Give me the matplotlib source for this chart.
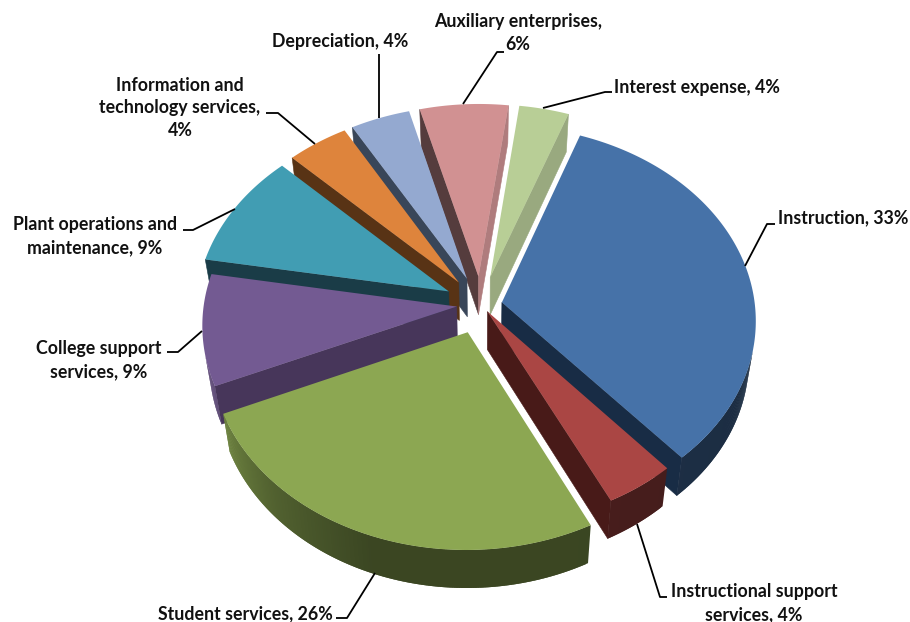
import numpy as np
import matplotlib
matplotlib.use("Agg")
import matplotlib.pyplot as plt
from matplotlib.patches import Polygon

# Expense shares, clockwise from the first slice
categories = ["Instruction", "Instructional support services", "Student services",
              "College support services", "Plant operations and maintenance",
              "Information and technology services", "Depreciation",
              "Auxiliary enterprises", "Interest expense"]
shares = [33, 4, 26, 9, 9, 4, 4, 6, 4]
labels = ["Instruction, 33%", "Instructional support\nservices, 4%", "Student services, 26%",
          "College support\nservices, 9%", "Plant operations and\nmaintenance, 9%",
          "Information and\ntechnology services,\n4%", "Depreciation, 4%",
          "Auxiliary enterprises,\n6%", "Interest expense, 4%"]

top_colors = ["#4672A8", "#AA4644", "#8CA752", "#735A92", "#419DB3",
              "#DE843C", "#94A9D0", "#D19192", "#B8CE96"]
start_face = ["#182C45", "#481A18", "#37421A", "#47365A", "#1A3C47",
              "#583315", "#394659", "#553C3D", "#7D8A68"]
end_face = ["#182C45", "#481A18", "#37421A", "#47365A", "#1A3C47",
            "#583315", "#394659", "#AF7C7D", "#99A97F"]
explode = [0.08, 0.04, 0.15, 0.10, 0.15, 0.15, 0.15, 0.15, 0.15]
draw_order = [8, 7, 6, 5, 4, 0, 3, 1, 2]

# Projection of the tilted pie onto the canvas
CX, CY, RX, RY, PERSP = 482, 305, 253, 193, 0.09
DEPTH, CONVERGE = 38, 0.975
START = 20.0

# Small angular correction of the tilted view, in degrees, by bearing
view_bearing = [20, 140, 154.5, 249, 282, 315, 329, 344, 365.6, 380]
view_shift = [0, -1.2, -1.0, -2.5, -2.0, 0, 1.0, 1.5, 2.0, 0]

# Outer wall brightness by compass bearing of the surface
wall_bearing = [0, 90, 160, 200, 225, 249, 285, 360]
wall_shade = [0.80, 0.38, 0.42, 0.42, 0.58, 0.80, 0.85, 0.80]


def project(u, v):
    d = 1 + PERSP * v
    return CX + RX * u / d, CY - RY * v / d


def lower(p):
    return CX + (p[0] - CX) * CONVERGE, p[1] + DEPTH


def area(pts):
    a = np.array(pts)
    x, y = a[:, 0], a[:, 1]
    return np.sum(x * np.roll(y, -1) - np.roll(x, -1) * y)


def scale_color(hex_color, k):
    rgb = np.array(matplotlib.colors.to_rgb(hex_color)) * k
    return tuple(np.clip(rgb, 0, 1))


def corrected(b):
    return b + np.interp(b, view_bearing, view_shift)


fig = plt.figure(figsize=(9.10, 6.22), dpi=100, facecolor="white")
ax = fig.add_axes([0, 0, 1, 1])
ax.set_xlim(0, 910)
ax.set_ylim(622, 0)
ax.axis("off")

spans = np.array(shares, float) / np.sum(shares) * 360.0
ends = START + np.cumsum(spans)
starts = ends - spans

for i in draw_order:
    b0, b1 = starts[i], ends[i]
    mid = np.radians((b0 + b1) / 2)
    ou, ov = explode[i] * np.sin(mid), explode[i] * np.cos(mid)
    tip = project(ou, ov)
    bearings = np.linspace(b0, b1, max(int(spans[i] * 2), 6))
    bent = corrected(bearings)
    rim = [project(ou + np.sin(np.radians(b)), ov + np.cos(np.radians(b))) for b in bent]

    # Cut faces first; only faces turned toward the viewer are painted
    for a, b, col in ((tip, rim[0], start_face[i]), (rim[-1], tip, end_face[i])):
        quad = [a, b, lower(b), lower(a)]
        if area(quad) < 0:
            ax.add_patch(Polygon(quad, closed=True, fc=col, ec=col, lw=0.4, zorder=1))

    # Curved wall: overlapping strips keep the shading free of seams
    for j in range(len(rim) - 1):
        quad = [rim[j], rim[j + 1], lower(rim[j + 1]), lower(rim[j])]
        if area(quad) < 0:
            stop = min(j + 2, len(rim) - 1)
            strip = [rim[j], rim[stop], lower(rim[stop]), lower(rim[j])]
            k = np.interp((bent[j] + bent[j + 1]) / 2 % 360, wall_bearing, wall_shade)
            ax.add_patch(Polygon(strip, closed=True, fc=scale_color(top_colors[i], k),
                                 ec="none", zorder=1))

    ax.add_patch(Polygon([tip] + rim, closed=True, fc=top_colors[i], ec="none", zorder=1))

# Leader lines from each slice to its label
leader_x = [(745, 767, 775), (637, 660, 667), (375, 347, 336), (202, 178, 167),
            (235, 193, 183), (315, 278, 266), (379, 379), (463, 497, 504), (543, 605, 612)]
leader_y = [(266, 224, 224), (524, 597, 597), (573, 618, 618), (331, 352, 352),
            (209, 230, 230), (144, 113, 113), (118, 54), (104, 52, 52), (108, 92, 92)]
for xs, ys in zip(leader_x, leader_y):
    ax.plot(xs, ys, color="black", lw=1.3, solid_capstyle="butt", zorder=3)

label_x = [843, 754, 245, 99, 95, 180, 340, 518, 697]
label_y = [218, 603, 614, 360, 236, 108, 42, 33, 87]
for text, x, y in zip(labels, label_x, label_y):
    ax.text(x, y, text, ha="center", va="center", family="Lato", fontweight="bold",
            fontsize=12.8, linespacing=1.42, color="#111111", zorder=4)

fig.savefig("out.png", dpi=100)
